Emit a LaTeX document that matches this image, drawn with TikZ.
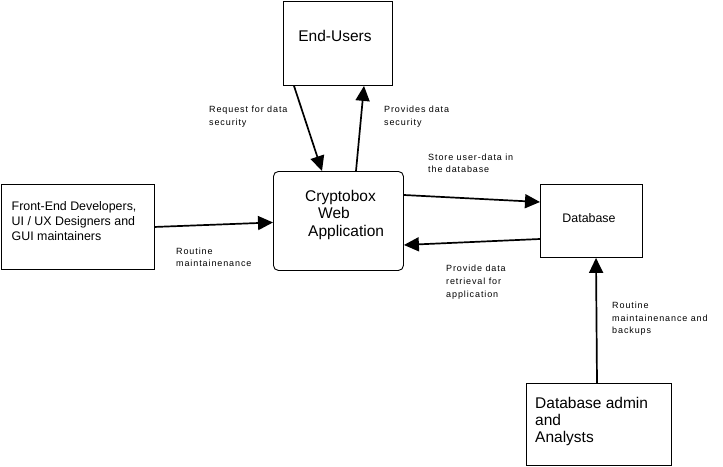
\documentclass[tikz,border=0pt]{standalone}
\usepackage{fontspec}
\setmainfont{Liberation Sans}
\newfontfamily\labfont[LetterSpace=10]{Liberation Sans}
\usetikzlibrary{arrows.meta}
\begin{document}
\begin{tikzpicture}[x=1pt,y=-1pt,
  box/.style={draw, line width=0.9pt, inner sep=0pt, anchor=north west},
  arr/.style={line width=1.7pt, -{Triangle[length=15pt,width=14pt]}},
  lab/.style={font=\labfont\fontsize{9}{12.8}\selectfont, align=left, inner sep=0pt, anchor=base west},
  big/.style={font=\fontsize{15.5}{17.3}\selectfont, align=left, inner sep=0pt, anchor=base west},
  mid/.style={font=\fontsize{12.4}{15}\selectfont, align=left, inner sep=0pt, anchor=base west}]
\useasboundingbox (0,0) rectangle (723,466);
\fill[white] (0,0) rectangle (723,466);
% boxes
\node[box, minimum width=109pt, minimum height=84.2pt] (eu) at (283,0.8) {};
\node[box, rounded corners=5pt, minimum width=130pt, minimum height=99pt] (cb) at (273,171) {};
\node[box, minimum width=153.4pt, minimum height=85pt] (fe) at (0.6,184) {};
\node[box, minimum width=102pt, minimum height=73pt] (db) at (540,184) {};
\node[box, minimum width=145pt, minimum height=82pt] (da) at (526,383) {};
% box texts (base anchor = last line baseline)
\node[big, anchor=base] (eut) at (335,41.7) {End-Users};
\node[big] (cbt) at (305,236) {Cryptobox\\\hspace*{13pt}Web\\\hspace*{3pt}Application};
\node[mid] (fet) at (11.5,240) {Front-End Developers,\\UI / UX Designers and\\GUI maintainers};
\node[mid, anchor=base] (dbt) at (589,222.5) {Database};
\node[big] (dat) at (535,442.7) {Database admin\\and\\Analysts};
% connectors
\draw[arr] ([xshift=11pt]eu.south west) -- ([xshift=49pt]cb.north west);
\draw[arr] ([xshift=83pt]cb.north west) -- ([xshift=81pt]eu.south west);
\draw[arr] (fe.east) -- ([yshift=-1.5pt]cb.west);
\draw[arr] ([yshift=-24pt]cb.north east) -- ([yshift=-18pt]db.north west);
\draw[arr] ([yshift=-55pt]db.north west) -- ([yshift=-74pt]cb.north east);
\draw[arr] ([xshift=71pt]da.north west) -- ([xshift=56pt]db.south west);
% labels
\node[lab] (l1) at (209,125.3) {Request for data\\security};
\node[lab] (l2) at (384,125.3) {Provides data\\security};
\node[lab] (l3) at (428,172.8) {Store user-data in\\the database};
\node[lab] (l4) at (176,266.8) {Routine\\maintainenance};
\node[lab] (l5) at (446,297.3) {Provide data\\retrieval for\\application};
\node[lab] (l6) at (612,333.9) {Routine\\maintainenance and\\backups};
\end{tikzpicture}
\end{document}
